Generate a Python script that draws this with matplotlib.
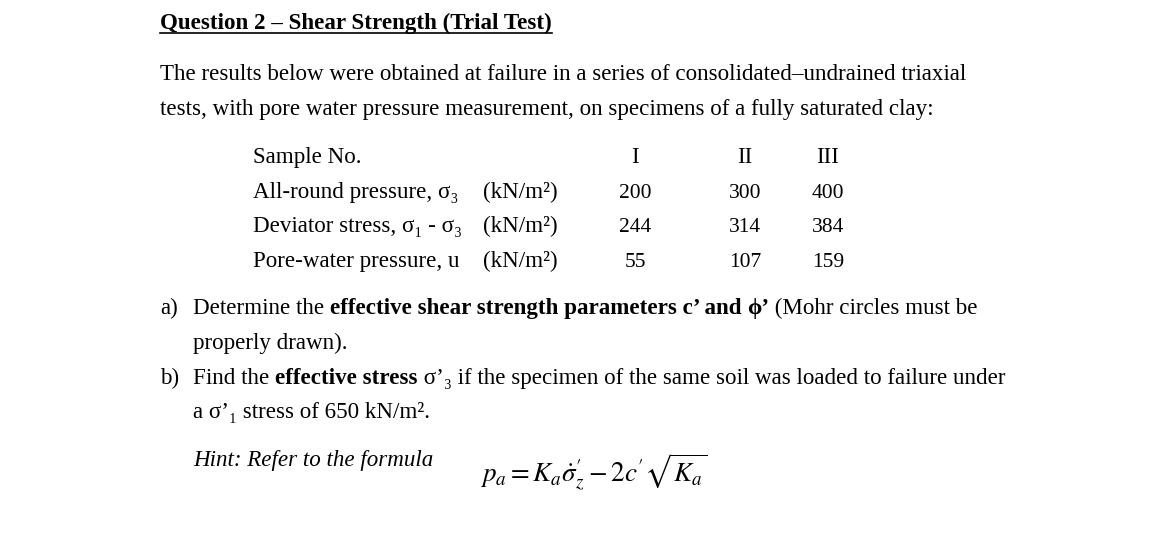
import matplotlib
matplotlib.use("Agg")
import matplotlib.pyplot as plt
from matplotlib.transforms import IdentityTransform

samples = ["I", "II", "III"]
cell_pressure = [200, 300, 400]
deviator = [244, 314, 384]
pore = [55, 107, 159]

W, H = 1170, 536
fig = plt.figure(figsize=(W/100, H/100), dpi=100)
fig.patch.set_facecolor("white")
FAM = ["Liberation Serif", "DejaVu Serif"]
FS = 16.6
plt.rcParams["mathtext.fontset"] = "stix"
fig.canvas.draw()
r = fig.canvas.get_renderer()

def put(x, y, s, ha="left", **kw):
    kw.setdefault("fontsize", FS)
    t = fig.text(x, H - y, s, transform=IdentityTransform(), family=FAM,
                 ha=ha, va="baseline", **kw)
    return t

def runs(x, y, parts):
    for s, kw in parts:
        t = put(x, y, s, **kw)
        x = t.get_window_extent(r).x1
    return x

t = put(160, 29, "Question 2 – Shear Strength (Trial Test)", weight="bold")
bb = t.get_window_extent(r)
fig.add_artist(plt.Line2D([bb.x0, bb.x1], [H-33, H-33], transform=IdentityTransform(), color="black", lw=1.2))

put(160, 80, "The results below were obtained at failure in a series of consolidated–undrained triaxial")
put(160, 115, "tests, with pore water pressure measurement, on specimens of a fully saturated clay:")

rows_y = [163, 198, 232, 267]
labels = ["Sample No.", "All-round pressure, σ₃", "Deviator stress, σ₁ - σ₃", "Pore-water pressure, u"]
cols_x = [635, 745, 828]
table = [samples, cell_pressure, deviator, pore]
for i, (y, lab) in enumerate(zip(rows_y, labels)):
    put(253, y, lab)
    if i > 0:
        put(483, y, "(kN/m²)")
    for cx, v in zip(cols_x, table[i]):
        put(cx, y, str(v), ha="center", fontsize=FS if i == 0 else 15.5)

put(160, 314, "a)")
runs(193, 314, [("Determine the ", {}), ("effective shear strength parameters c’ and ", {"weight": "bold"}),
                ("ϕ’", {"weight": "bold"}), (" (Mohr circles must be", {})])
put(193, 349, "properly drawn).")
put(160, 384, "b)")
runs(193, 384, [("Find the ", {}), ("effective stress", {"weight": "bold"}),
                (" σ’₃ if the specimen of the same soil was loaded to failure under", {})])
put(193, 418, "a σ’₁ stress of 650 kN/m².")
put(193, 466, "Hint: Refer to the formula", style="italic")
fig.text(480, H - 482, r"$p_a = K_a\dot{\sigma}_z' - 2c'\sqrt{K_a}$", transform=IdentityTransform(),
         fontsize=19.5, va="baseline")

fig.savefig("out.png", dpi=100, facecolor="white")
